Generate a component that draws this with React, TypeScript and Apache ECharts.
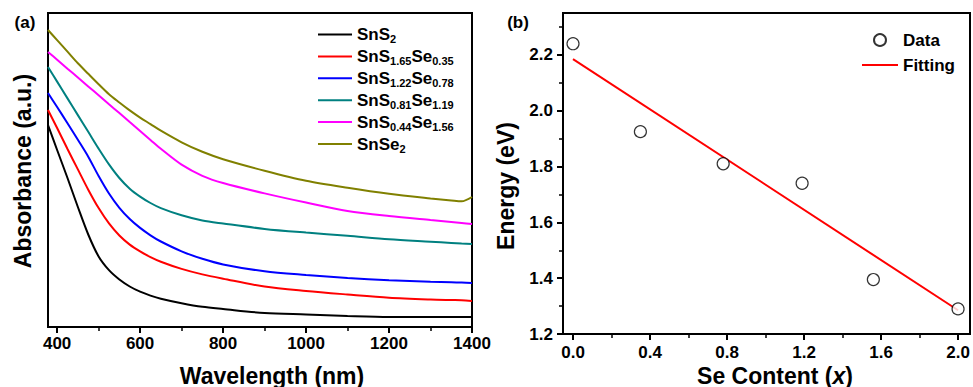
import React, { useEffect, useRef } from 'react';
import * as echarts from 'echarts';

// ---- Panel (a): absorbance spectra (arbitrary units) ----
const wavelengths = [378, 400, 425, 450, 475, 500, 525, 550, 575, 600, 625, 650, 700, 750, 800, 900, 1000, 1100, 1200, 1300, 1350, 1375, 1400];
const absSnS2 = [202, 177, 149, 120, 92.5, 70.5, 56.8, 47.5, 40.5, 35.3, 31.4, 28.3, 23.8, 20.2, 18, 14, 12.5, 11, 10, 10, 10, 10, 10];
const absS165 = [217, 199, 178, 157.6, 137.3, 118.9, 103.6, 91.5, 82.4, 75.6, 69.9, 65.3, 58.1, 52.6, 48.3, 40.4, 36, 32.5, 29.3, 27.5, 27, 26.8, 26];
const absS122 = [234, 220, 203.8, 187.2, 170.3, 151, 133.5, 119.2, 108, 99.1, 91.7, 85.5, 75.7, 68.2, 62.6, 55.7, 52, 49, 46.8, 45.3, 44.7, 44.4, 44];
const absS081 = [260, 245.4, 228.6, 211.9, 195.2, 178.4, 162.6, 149, 138.3, 130.4, 124, 118.9, 111.7, 106.5, 103.5, 98.1, 94.4, 91.2, 87.7, 85.3, 84.1, 83.5, 83];
const absS044 = [275, 267.3, 258.3, 249.5, 240.6, 231.7, 222.7, 213.9, 204.9, 196, 187.1, 178.2, 162.3, 151.2, 144, 133.6, 124.4, 116, 110.9, 106.9, 105, 104, 103];
const absSnSe2 = [297, 286.9, 275.3, 263.7, 253.2, 242.8, 232.8, 224.5, 216.6, 209.4, 202.9, 196.3, 184.7, 175.2, 167.8, 156.3, 146.2, 139.2, 133.2, 128.6, 126.6, 125.7, 130];

const seriesNamesA = ['SnS2', 'SnS1.65Se0.35', 'SnS1.22Se0.78', 'SnS0.81Se1.19', 'SnS0.44Se1.56', 'SnSe2'];
const seriesDataA = [absSnS2, absS165, absS122, absS081, absS044, absSnSe2];
const colorsA = ['#000000', '#ff0000', '#0000ff', '#008080', '#ff00ff', '#808000'];
const legendRich: Record<string, string> = {
  'SnS2': '{m|SnS}{s|2}',
  'SnS1.65Se0.35': '{m|SnS}{s|1.65}{m|Se}{s|0.35}',
  'SnS1.22Se0.78': '{m|SnS}{s|1.22}{m|Se}{s|0.78}',
  'SnS0.81Se1.19': '{m|SnS}{s|0.81}{m|Se}{s|1.19}',
  'SnS0.44Se1.56': '{m|SnS}{s|0.44}{m|Se}{s|1.56}',
  'SnSe2': '{m|SnSe}{s|2}',
};
const xTicksA = [400, 600, 800, 1000, 1200, 1400];
const xMinorA = [500, 700, 900, 1100, 1300];

// ---- Panel (b): band gap vs Se content ----
const seContent = [0, 0.35, 0.78, 1.19, 1.56, 2.0];
const energy = [2.24, 1.925, 1.81, 1.74, 1.395, 1.29];
const fitX = [0, 2.0];
const fitY = [2.185, 1.285];
const xTicksB = [0, 0.4, 0.8, 1.2, 1.6, 2.0];
const xMinorB = [0.2, 0.6, 1.0, 1.4, 1.8];
const yTicksB = [1.2, 1.4, 1.6, 1.8, 2.0, 2.2];
const yMinorB = [1.3, 1.5, 1.7, 1.9, 2.1, 2.3];

const FONT = '"Liberation Sans", Arial, Helvetica, sans-serif';
const LINE_ICON = 'path://M0,0 L34,0 L34,2 L0,2 Z';
const axisLineStyle = { show: true, onZero: false, lineStyle: { color: '#000', width: 2 } };
const tickLabel = { color: '#000', fontSize: 17, fontWeight: 'bold' as const, fontFamily: FONT };

export default function App() {
  const ref = useRef<HTMLDivElement>(null);
  useEffect(() => {
    if (!ref.current) return;
    const chart = echarts.init(ref.current, undefined, { renderer: 'svg' });
    const option: any = {
      animation: false,
      backgroundColor: '#fff',
      textStyle: { fontFamily: FONT },
      grid: [
        { left: 48, top: 13, width: 424, height: 314, show: true, borderColor: '#000', borderWidth: 2, backgroundColor: 'transparent' },
        { left: 563, top: 13, width: 407, height: 321, show: true, borderColor: '#000', borderWidth: 2, backgroundColor: 'transparent' },
      ],
      xAxis: [
        {
          gridIndex: 0, type: 'value', position: 'bottom', min: 378, max: 1400,
          axisLine: axisLineStyle,
          axisTick: { show: true, inside: false, length: 6, customValues: xTicksA, lineStyle: { color: '#000', width: 2 } },
          axisLabel: { ...tickLabel, margin: 8, customValues: xTicksA, formatter: (v: number) => String(v) },
          splitLine: { show: false },
        },
        {
          gridIndex: 0, type: 'value', position: 'bottom', min: 378, max: 1400,
          axisLine: { show: false, onZero: false },
          axisTick: { show: true, inside: false, length: 4, customValues: xMinorA, lineStyle: { color: '#000', width: 1.5 } },
          axisLabel: { show: false },
          splitLine: { show: false },
        },
        {
          gridIndex: 1, type: 'value', position: 'bottom', min: -0.052, max: 2.062,
          axisLine: axisLineStyle,
          axisTick: { show: true, inside: false, length: 6, customValues: xTicksB, lineStyle: { color: '#000', width: 2 } },
          axisLabel: { ...tickLabel, margin: 10, customValues: xTicksB, formatter: (v: number) => v.toFixed(1) },
          splitLine: { show: false },
        },
        {
          gridIndex: 1, type: 'value', position: 'bottom', min: -0.052, max: 2.062,
          axisLine: { show: false, onZero: false },
          axisTick: { show: true, inside: false, length: 4, customValues: xMinorB, lineStyle: { color: '#000', width: 1.5 } },
          axisLabel: { show: false },
          splitLine: { show: false },
        },
      ],
      yAxis: [
        {
          gridIndex: 0, type: 'value', position: 'left', min: 0, max: 314,
          axisLine: axisLineStyle,
          axisTick: { show: false },
          axisLabel: { show: false },
          splitLine: { show: false },
        },
        {
          gridIndex: 1, type: 'value', position: 'left', min: 1.2, max: 2.35,
          axisLine: axisLineStyle,
          axisTick: { show: true, inside: false, length: 6, customValues: yTicksB, lineStyle: { color: '#000', width: 2 } },
          axisLabel: { ...tickLabel, margin: 10, customValues: yTicksB, formatter: (v: number) => v.toFixed(1) },
          splitLine: { show: false },
        },
        {
          gridIndex: 1, type: 'value', position: 'left', min: 1.2, max: 2.35,
          axisLine: { show: false, onZero: false },
          axisTick: { show: true, inside: false, length: 4, customValues: yMinorB, lineStyle: { color: '#000', width: 1.5 } },
          axisLabel: { show: false },
          splitLine: { show: false },
        },
      ],
      legend: [
        {
          data: seriesNamesA.map((name) => ({ name, icon: LINE_ICON })),
          orient: 'vertical',
          left: 318,
          top: 26,
          padding: 0,
          itemWidth: 34,
          itemHeight: 12,
          itemGap: 3.4,
          formatter: (name: string) => legendRich[name] || name,
          textStyle: {
            rich: {
              m: { fontSize: 17, fontWeight: 'bold', color: '#000', fontFamily: FONT, lineHeight: 20, verticalAlign: 'middle' },
              s: { fontSize: 11, fontWeight: 'bold', color: '#000', fontFamily: FONT, lineHeight: 20, verticalAlign: 'bottom' },
            },
          },
        },
        {
          data: [
            { name: 'Data', icon: 'circle' },
            { name: 'Fitting', icon: 'path://M0,0 L36,0 L36,2 L0,2 Z' },
          ],
          orient: 'vertical',
          left: 862,
          top: 30,
          padding: 0,
          itemWidth: 36,
          itemHeight: 12,
          itemGap: 5,
          textStyle: { fontSize: 17, fontWeight: 'bold', color: '#000', fontFamily: FONT, lineHeight: 20 },
        },
      ],
      series: [
        ...seriesNamesA.map((name, i) => ({
          name,
          type: 'line',
          xAxisIndex: 0,
          yAxisIndex: 0,
          data: wavelengths.map((w, k) => [w, seriesDataA[i][k]]),
          smooth: 0.3,
          symbol: 'none',
          color: colorsA[i],
          lineStyle: { color: colorsA[i], width: 2 },
          itemStyle: { color: colorsA[i] },
        })),
        {
          name: 'Data',
          type: 'scatter',
          xAxisIndex: 2,
          yAxisIndex: 1,
          data: seContent.map((x, k) => [x, energy[k]]),
          symbol: 'circle',
          symbolSize: 12,
          itemStyle: { color: '#ffffff', borderColor: '#000', borderWidth: 1.2 },
          z: 3,
        },
        {
          name: 'Fitting',
          type: 'line',
          xAxisIndex: 2,
          yAxisIndex: 1,
          data: fitX.map((x, k) => [x, fitY[k]]),
          symbol: 'none',
          color: '#ff0000',
          lineStyle: { color: '#ff0000', width: 2 },
          itemStyle: { color: '#ff0000' },
          z: 2,
        },
      ],
      graphic: [
        { type: 'text', x: 25, y: 22, style: { text: '(a)', fontSize: 17, fontWeight: 'bold', fontFamily: FONT, fill: '#000', align: 'center', verticalAlign: 'middle' } },
        { type: 'text', x: 518, y: 22, style: { text: '(b)', fontSize: 17, fontWeight: 'bold', fontFamily: FONT, fill: '#000', align: 'center', verticalAlign: 'middle' } },
        { type: 'text', x: 23, y: 171, rotation: Math.PI / 2, style: { text: 'Absorbance (a.u.)', fontSize: 23, fontWeight: 'bold', fontFamily: FONT, fill: '#000', align: 'center', verticalAlign: 'middle' } },
        { type: 'text', x: 272, y: 375.5, style: { text: 'Wavelength (nm)', fontSize: 23, fontWeight: 'bold', fontFamily: FONT, fill: '#000', align: 'center', verticalAlign: 'middle' } },
        { type: 'text', x: 506, y: 186, rotation: Math.PI / 2, style: { text: 'Energy (eV)', fontSize: 23, fontWeight: 'bold', fontFamily: FONT, fill: '#000', align: 'center', verticalAlign: 'middle' } },
        {
          type: 'text', x: 775, y: 375.5,
          style: {
            text: '{n|Se Content (}{i|x}{n|)}',
            align: 'center', verticalAlign: 'middle',
            rich: {
              n: { fontSize: 23, fontWeight: 'bold', fontFamily: FONT, fill: '#000', color: '#000' },
              i: { fontSize: 23, fontWeight: 'bold', fontStyle: 'italic', fontFamily: FONT, fill: '#000', color: '#000' },
            },
          },
        },
      ],
    };
    chart.setOption(option);
    return () => chart.dispose();
  }, []);
  return <div ref={ref} style={{ position: 'fixed', left: 0, top: 0, width: 973, height: 387 }} />;
}
